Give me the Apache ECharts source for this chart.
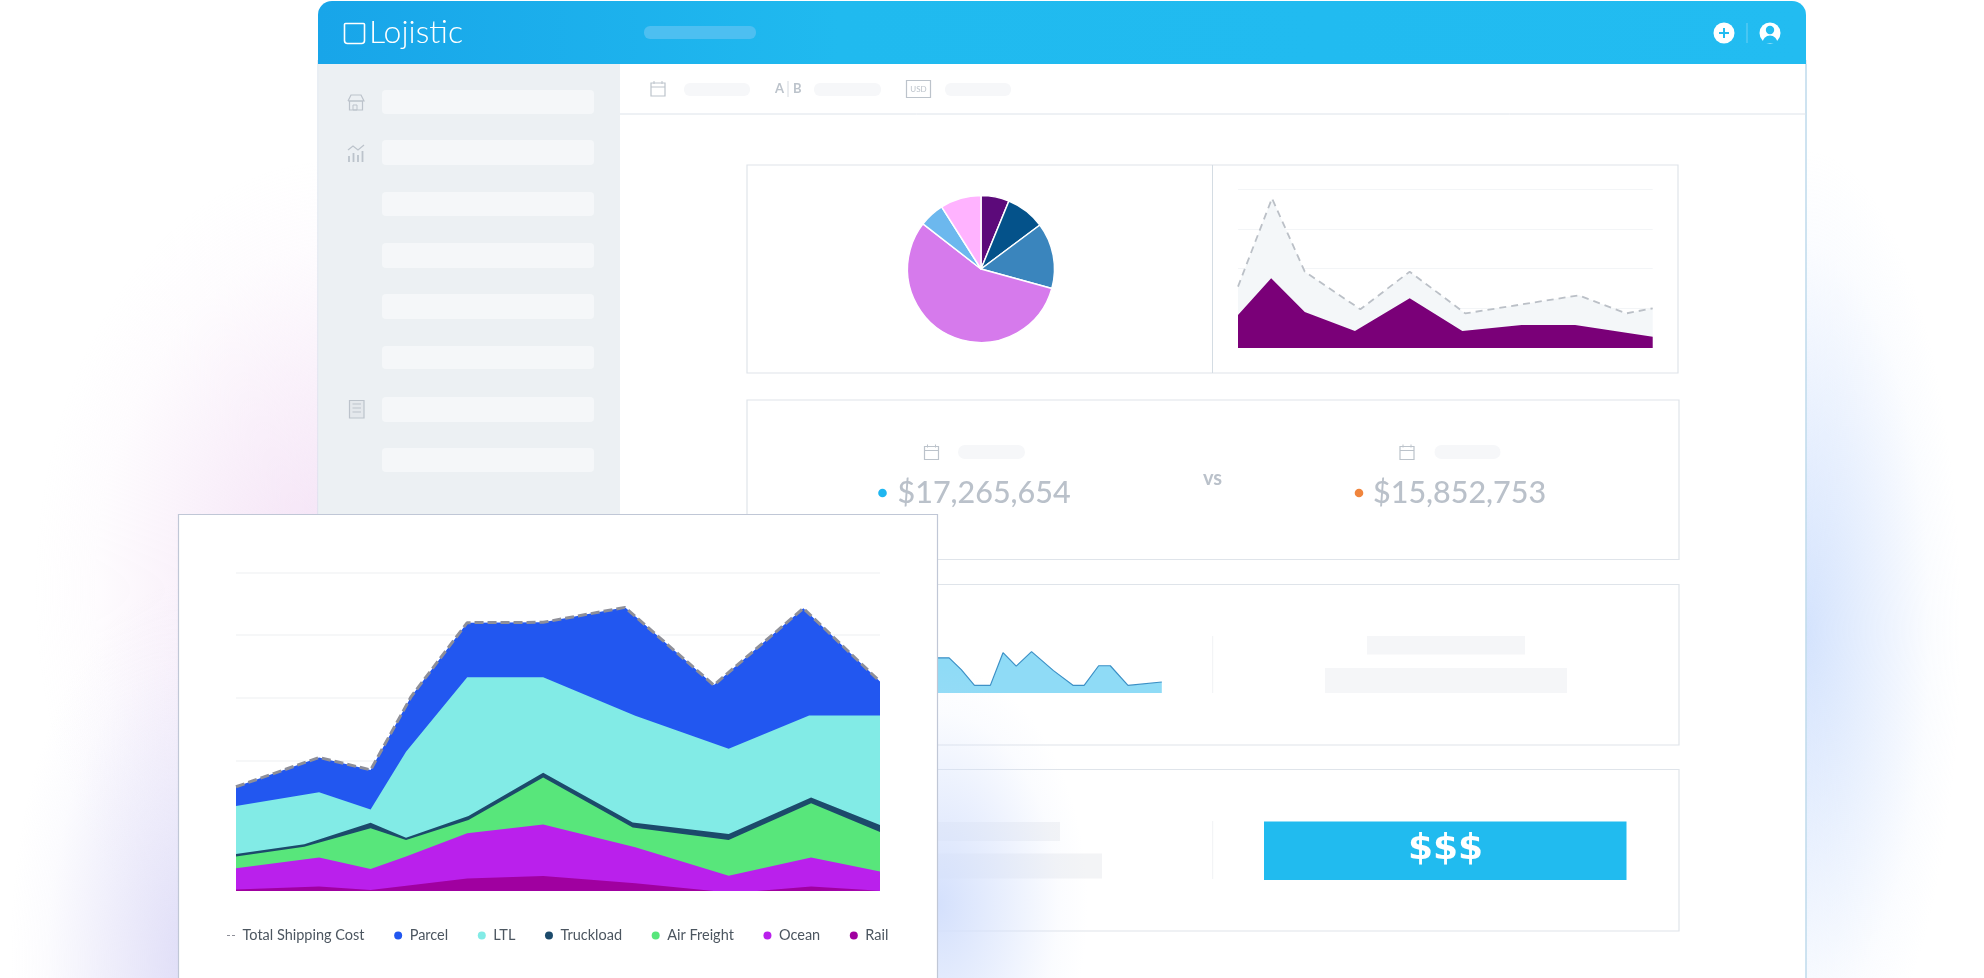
<!DOCTYPE html>
<html><head><meta charset="utf-8">
<style>html,body{margin:0;padding:0;background:#fff}#c{width:1984px;height:978px}</style>
<script src="https://cdn.jsdelivr.net/npm/echarts@6/dist/echarts.min.js"></script>
</head><body><div id="c"></div>
<script>
// ---- main stacked chart (cumulative tops), x = share of period, y = cost index
const parcelX=[0,12.9,20.9,27.2,35.9,47.7,60.4,74.2,88.1,100];
const parcelY=[32.7,41.9,38.0,61.0,84.2,84.3,89.0,64.6,88.7,65.7];
const ltlX=[0,12.9,20.9,26.4,35.9,47.7,62.0,76.5,89.0,100];
const ltlY=[26.7,31.0,25.6,43.7,67.1,67.1,55.0,44.6,55.1,55.1];
const truckX=[0,10.6,20.9,26.4,36.1,47.7,61.6,76.5,89.3,100];
const truckY=[11.6,14.7,21.4,16.7,23.5,37.1,21.5,17.9,29.3,20.7];
const airX=[0,10.6,20.9,26.4,36.1,47.7,61.6,76.5,89.3,100];
const airY=[10.8,13.9,19.7,16.0,22.3,35.6,19.9,16.0,27.5,18.5];
const oceanX=[0,12.9,20.9,26.4,35.9,47.7,62.0,76.5,89.3,100];
const oceanY=[7.1,10.5,6.9,10.8,18.1,20.9,13.7,4.8,10.5,6.1];
const railX=[0,12.9,20.9,35.9,47.7,62.0,74.2,80.9,89.3,100];
const railY=[0.5,1.4,0.3,3.9,4.7,2.4,0,0,1.4,0.1];
const legendNames=['Total Shipping Cost','Parcel','LTL','Truckload','Air Freight','Ocean','Rail'];
// ---- pie
const pieValues=[6.2,8.6,14.5,56.3,5.5,9.0];
const pieNames=['A','B','C','D','E','F'];
// ---- small area chart
const smallTotalX=[0,8.2,16.1,29.5,41.4,54.8,82.2,93.6,100];
const smallTotalY=[38.7,94.3,48.1,24.4,48.1,21.8,33.2,21.8,25.0];
const smallPartX=[0,8.0,16.1,28.2,41.4,54.1,68.4,81.3,100];
const smallPartY=[20.8,43.9,22.7,10.7,31.3,10.7,14.5,14.5,7.1];
// ---- sparkline
const sparkX=[0,15.1,19.5,24.1,29.1,35.1,39.9,44.9,50.7,59,66.5,70.6,76.1,80.5,87.2,100];
const sparkY=[68,68,68,45.3,14.7,14.7,78,52,80,43.3,14.7,14.7,52.7,52.7,14.7,21.3];
// ---- texts
const amountA='$17,265,654', amountB='$15,852,753', brand='Lojistic';

const zip=(x,y)=>x.map((v,i)=>[v,y[i]]);
const FONT='Lato, "Open Sans", sans-serif';
const g=[];
const rect=(x,y,w,h,fill,z,r,stroke,lw)=>g.push({type:'rect',z:z||1,silent:true,shape:{x,y,width:w,height:h,r:r||0},style:{fill:fill||'none',stroke:stroke||null,lineWidth:lw||1}});
const line=(x1,y1,x2,y2,c,z,lw)=>g.push({type:'line',z:z||1,silent:true,shape:{x1,y1,x2,y2},style:{stroke:c,lineWidth:lw||1}});
const text=(x,y,t,font,fill,align,z)=>g.push({type:'text',z:z||2,silent:true,x,y,style:{text:t,font,fill,textAlign:align||'left',textVerticalAlign:'middle'}});
const glow=(cx,cy,rx,ry,col,z)=>g.push({type:'circle',z:z||0,silent:true,x:cx,y:cy,scaleX:rx/100,scaleY:ry/100,shape:{cx:0,cy:0,r:100},
  style:{fill:{type:'radial',x:.5,y:.5,r:.5,colorStops:[{offset:0,color:col+',1)'},{offset:.45,color:col+',.5)'},{offset:.8,color:col+',.1)'},{offset:1,color:col+',0)'}]}}});
const ICON='#bcc3cb';
const calendar=(x,y,z)=>{rect(x,y+2,14,13,'none',z||2,0,ICON,1.2);line(x,y+6,x+14,y+6,ICON,z||2);line(x+3,y,x+3,y+3,ICON,z||2);line(x+11,y,x+11,y+3,ICON,z||2);};

// page glows
glow(335,590,300,430,'rgba(243,224,245',0);
glow(195,960,185,380,'rgba(222,220,247',0);
glow(1806,630,155,480,'rgba(212,227,253',0);

// window
rect(318,60,1488,930,'#ffffff',1,0,'#d3dde8',1);
line(1806,64,1806,978,'#bcdcee',1,1.2);
rect(318,1,1488,63,{type:'linear',x:0,y:0,x2:1,y2:0,colorStops:[{offset:0,color:'#18a5e9'},{offset:.35,color:'#20baef'},{offset:1,color:'#22bcf1'}]},1,[14,14,0,0]);
rect(319,64,301,452,'#ecf0f3',1);
line(620,114,1806,114,'#dde3ea',1,1);
// header
rect(344.5,23.5,20,20,'none',2,[1,1,3,3],'#ffffff',1.6);
text(369,33,brand,'300 32px '+FONT,'#ffffff');
rect(644,26,112,13,'#4dbff1',2,6);
g.push({type:'circle',z:2,silent:true,shape:{cx:1724,cy:33,r:10.5},style:{fill:'#fff'}});
line(1719,33,1729,33,'#22bcf1',3,2);line(1724,28,1724,38,'#22bcf1',3,2);
line(1747,23,1747,43,'#6fd0f4',2);
g.push({type:'circle',z:2,silent:true,shape:{cx:1770,cy:33,r:10.5},style:{fill:'#fff'}});
g.push({type:'circle',z:3,silent:true,shape:{cx:1770,cy:30,r:4.2},style:{fill:'#22bcf1'}});
g.push({type:'sector',z:3,silent:true,shape:{cx:1770,cy:43,r0:0,r:7.5,startAngle:Math.PI,endAngle:2*Math.PI},style:{fill:'#22bcf1'}});
// sidebar
[[90,24],[140,25],[192,24],[243,25],[294,25],[346,23],[397,25],[448,24]].forEach(a=>rect(382,a[0],212,a[1],'#f5f7f9',2,4));
// house
g.push({type:'polyline',z:2,silent:true,shape:{points:[[348,101],[351,95],[361,95],[364,101],[348,101]]},style:{stroke:ICON,fill:'none',lineWidth:1.2}});
rect(349.5,101,13,9,'none',2,0,ICON,1.2);rect(353,105,4,5,'none',2,0,ICON,1);
// chart icon
[[349,156,6],[353.5,153,9],[358,155,7],[362.5,151,11]].forEach(a=>line(a[0],a[1],a[0],a[1]+a[2],ICON,2,1.8));
g.push({type:'polyline',z:2,silent:true,shape:{points:[[348,150],[353,146],[358,150],[364,145]]},style:{stroke:ICON,fill:'none',lineWidth:1.2}});
// document
rect(349.5,400.5,14.5,17.5,'#e4e8ec',2,0,ICON,1.2);
[404,408,412].forEach(y=>line(352.5,y,361,y,ICON,2));
// toolbar
calendar(651,81);
rect(684,83,66,13,'#f6f7f9',2,6);
text(775,89,'A','bold 13px '+FONT,ICON);line(788,81,788,97,'#d5dae0',2);text(793,89,'B','bold 13px '+FONT,ICON);
rect(814,83,67,13,'#f6f7f9',2,6);
rect(906.5,80.5,24,17,'none',2,0,ICON,1.2);text(918.5,89.5,'USD','8px '+FONT,ICON,'center');
rect(945,83,66,13,'#f6f7f9',2,6);

// panels
const PB='#dfe4ea';
rect(747,165,931,208,'none',2,0,PB,1.2);line(1212.5,165,1212.5,373,'#d4dce3',2,1);
rect(747,400,932,159.5,'none',2,0,PB,1.2);
rect(747,584.5,932,160.5,'none',2,0,PB,1.2);
rect(747,769.5,932,161.5,'none',2,0,PB,1.2);
// compare panel
calendar(924.5,444.5);rect(958,445,67,14,'#f6f7f9',2,7);
calendar(1400,444.5);rect(1434.5,445,66,14,'#f6f7f9',2,7);
g.push({type:'circle',z:2,silent:true,shape:{cx:882.5,cy:493,r:4.3},style:{fill:'#1fb6f0'}});
g.push({type:'circle',z:2,silent:true,shape:{cx:1359,cy:493,r:4.3},style:{fill:'#f0853d'}});
text(897.5,493,amountA,'500 30.5px '+FONT,'#bac1ca');
text(1373,493,amountB,'500 30.5px '+FONT,'#bac1ca');
text(1212.5,479,'vs','bold 20px '+FONT,'#bac1ca','center');
// third / fourth panel content
line(1212.7,636,1212.7,693,'#f0f2f4',2);
rect(1367,636,158,18.5,'#f5f6f8',2);rect(1325,668,242,25,'#f5f6f8',2);
line(1212.7,821,1212.7,879,'#f0f2f4',2);
rect(920,822,140,19,'#f3f4f6',2);rect(920,853.5,182,25,'#f3f4f6',2);
rect(1264,821.5,362.5,58.5,'#21bbef',2);
text(1445.5,850,'$$$','bold 36px "DejaVu Sans", '+FONT,'#ffffff','center');

// shadow of the front card, above the panels
glow(938,905,150,240,'rgba(212,224,252',6);
// front card
rect(178.5,514.5,759,480,'#ffffff',10,0,'#c0c7d6',1.2);

const area=(name,x,y,color,z)=>({name,type:'line',xAxisIndex:0,yAxisIndex:0,z,data:zip(x,y),symbol:'none',showSymbol:false,
  itemStyle:{color},lineStyle:{width:0,color},areaStyle:{color,opacity:1,origin:'start'},silent:true,animation:false});
const hiddenX=i=>({type:'value',gridIndex:i,min:0,max:100,show:false});
const opt={
 animation:false,
 grid:[
  {left:236,top:572.3,width:644,height:318.7},
  {left:236,top:572.3,width:644,height:313.3},
  {left:1238,top:189.3,width:414.7,height:158.7},
  {left:897.6,top:641.3,width:264.2,height:51.7}
 ],
 xAxis:[hiddenX(0),hiddenX(1),hiddenX(2),hiddenX(3)],
 yAxis:[
  {type:'value',gridIndex:0,min:0,max:100,show:false},
  {type:'value',gridIndex:1,min:0,max:5,interval:1,z:11,axisLine:{show:false},axisTick:{show:false},axisLabel:{show:false},splitLine:{show:true,lineStyle:{color:'#f3f4f6',width:1.5}}},
  {type:'value',gridIndex:2,min:0,max:100,interval:25,z:3,axisLine:{show:false},axisTick:{show:false},axisLabel:{show:false},splitLine:{show:true,showMinLine:false,lineStyle:{color:'#f3f5f7',width:1}}},
  {type:'value',gridIndex:3,min:0,max:100,show:false}
 ],
 legend:{show:true,left:227,top:928,padding:0,itemWidth:8,itemHeight:8,itemGap:29.6,z:30,selectedMode:false,
  textStyle:{fontFamily:FONT,fontSize:14.5,color:'#4c5660',padding:[0,0,0,2.5]},
  data:legendNames.map((n,i)=>i==0?{name:n,icon:'path://M0 3.5h3v1h-3zM5 3.5h3v1h-3z'}:{name:n,icon:'circle'})},
 graphic:{elements:g},
 series:[
  area('Parcel',parcelX,parcelY,'#2257f0',12),
  area('LTL',ltlX,ltlY,'#82ebe6',13),
  area('Truckload',truckX,truckY,'#1c4a6b',14),
  area('Air Freight',airX,airY,'#58e67b',15),
  area('Ocean',oceanX,oceanY,'#ba20ec',16),
  area('Rail',railX,railY,'#a000a0',17),
  {name:'Total Shipping Cost',type:'line',xAxisIndex:0,yAxisIndex:0,z:18,data:zip(parcelX,parcelY),symbol:'none',silent:true,
   itemStyle:{color:'#8e8f99'},lineStyle:{color:'#8e8f99',width:3,type:[9,4]}},
  {type:'pie',center:[981,269],radius:[0,73.5],startAngle:90,z:4,silent:true,label:{show:false},labelLine:{show:false},
   itemStyle:{borderColor:'#fff',borderWidth:1.5},
   color:['#5c0a7a','#04528a','#3a85bd','#d67aec','#6cb8ee','#ffb3ff'],
   data:pieNames.map((n,i)=>({name:n,value:pieValues[i]}))},
  {name:'smallTotal',type:'line',xAxisIndex:2,yAxisIndex:2,z:4,data:zip(smallTotalX,smallTotalY),symbol:'none',silent:true,
   lineStyle:{color:'#bbc0c7',width:1.8,type:[7,5]},areaStyle:{color:'#f4f7f9',opacity:1}},
  {name:'smallPart',type:'line',xAxisIndex:2,yAxisIndex:2,z:5,data:zip(smallPartX,smallPartY),symbol:'none',silent:true,
   itemStyle:{color:'#7a0078'},lineStyle:{width:0,color:'#7a0078'},areaStyle:{color:'#7a0078',opacity:1}},
  {name:'spark',type:'line',xAxisIndex:3,yAxisIndex:3,z:4,data:zip(sparkX,sparkY),symbol:'none',silent:true,
   lineStyle:{color:'#3b90c6',width:1.2},areaStyle:{color:'#8fdbf6',opacity:1}}
 ]
};
const chart=echarts.init(document.getElementById('c'),null,{width:1984,height:978});
chart.setOption(opt);
</script></body></html>
